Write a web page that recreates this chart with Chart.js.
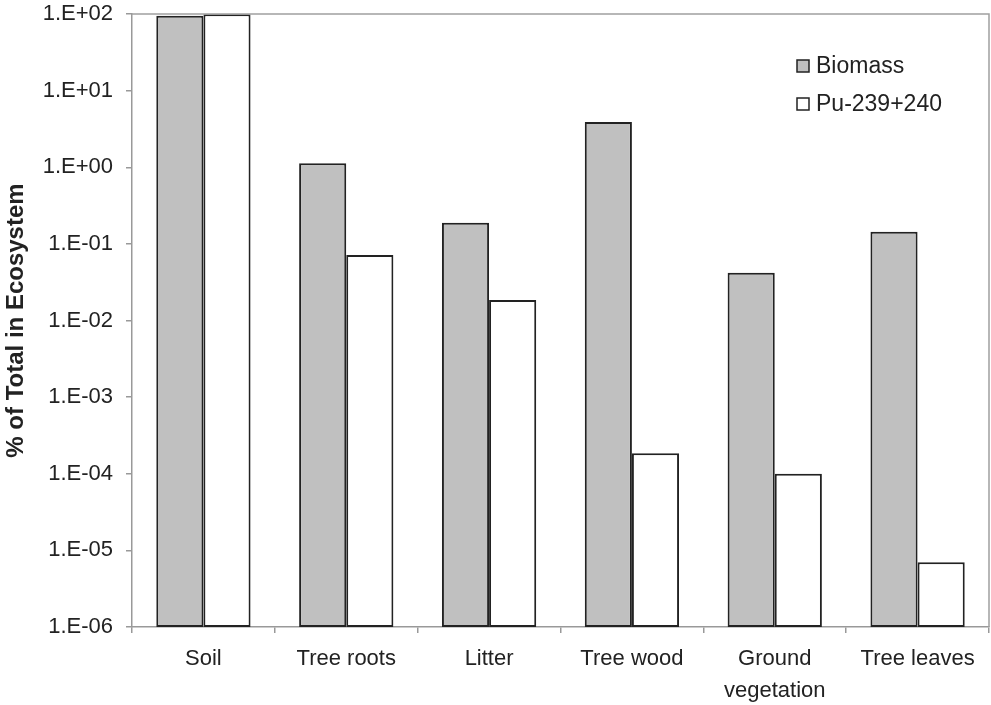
<!DOCTYPE html>
<html>
<head>
<meta charset="utf-8">
<script src="https://cdn.jsdelivr.net/npm/chart.js@4.4.0/dist/chart.umd.min.js"></script>
<style>
    html, body { margin: 0; padding: 0; background: #fff; }
    #wrap { width: 991px; height: 705px; }
</style>
</head>
<body>
<div id="wrap"><canvas id="ecoChart"></canvas></div>
<script>
var categories = ['Soil', 'Tree roots', 'Litter', 'Tree wood', ['Ground', 'vegetation'], 'Tree leaves'];
var biomassValues = [95, 1.13, 0.189, 3.9, 0.042, 0.144];
var plutoniumValues = [99, 0.0714, 0.0185, 1.85e-4, 1.0e-4, 7.0e-6];
var seriesNames = ['Biomass', 'Pu-239+240'];
var yMin = 1e-6;
var yMax = 100;

var FONT = "'Liberation Sans', Arial, sans-serif";

function formatExp(value) {
    var e = Math.round(Math.log10(value));
    var sign = e < 0 ? '-' : '+';
    var abs = Math.abs(e);
    return '1.E' + sign + (abs < 10 ? '0' + abs : abs);
}

// frame on top and right of plot area
var frameLines = {
    id: 'frameLines',
    afterDraw: function(chart) {
        var a = chart.chartArea;
        var ctx = chart.ctx;
        ctx.save();
        ctx.strokeStyle = '#a0a0a0';
        ctx.lineWidth = 1.5;
        ctx.beginPath();
        ctx.moveTo(a.left, a.top);
        ctx.lineTo(a.right, a.top);
        ctx.lineTo(a.right, a.bottom);
        ctx.stroke();
        ctx.restore();
    }
};

// legend inside the plot, top right
var insideLegend = {
    id: 'insideLegend',
    afterDraw: function(chart) {
        var ctx = chart.ctx;
        var sets = chart.data.datasets;
        ctx.save();
        ctx.font = '23px ' + FONT;
        ctx.textBaseline = 'middle';
        for (var i = 0; i < sets.length; i++) {
            var y = 66 + i * 38;
            ctx.fillStyle = sets[i].backgroundColor;
            ctx.fillRect(797, y - 6, 12, 12);
            ctx.strokeStyle = '#222';
            ctx.lineWidth = 1.5;
            ctx.strokeRect(797, y - 6, 12, 12);
            ctx.fillStyle = '#222';
            ctx.fillText(sets[i].label, 816, y + 1);
        }
        ctx.restore();
    }
};

var ctx = document.getElementById('ecoChart').getContext('2d');
var ecoChart = new Chart(ctx, {
    type: 'bar',
    data: {
        labels: categories,
        datasets: [{
            label: seriesNames[0],
            data: biomassValues,
            backgroundColor: '#c0c0c0',
            borderColor: '#222',
            borderWidth: 2,
            borderSkipped: false
        }, {
            label: seriesNames[1],
            data: plutoniumValues,
            backgroundColor: '#ffffff',
            borderColor: '#222',
            borderWidth: 2,
            borderSkipped: false
        }]
    },
    options: {
        responsive: true,
        maintainAspectRatio: false,
        animation: false,
        categoryPercentage: 0.66,
        barPercentage: 1.0,
        layout: {
            padding: { top: 14, right: 2, left: 0, bottom: 0 }
        },
        scales: {
            x: {
                grid: {
                    offset: true,
                    drawOnChartArea: false,
                    tickLength: 6,
                    color: '#999',
                    lineWidth: 1.5
                },
                border: { color: '#999', width: 1.5 },
                ticks: {
                    color: '#222',
                    padding: 10,
                    maxRotation: 0,
                    autoSkip: false,
                    font: { family: FONT, size: 22, lineHeight: 1.45 }
                },
                afterFit: function(scale) {
                    scale.height = 78;
                }
            },
            y: {
                type: 'logarithmic',
                min: yMin,
                max: yMax,
                grid: {
                    drawOnChartArea: false,
                    tickLength: 6,
                    color: '#999',
                    lineWidth: 1.5
                },
                border: { color: '#999', width: 1.5 },
                ticks: {
                    color: '#222',
                    padding: 13,
                    font: { family: FONT, size: 22 },
                    callback: function(value) {
                        return formatExp(value);
                    }
                },
                afterBuildTicks: function(scale) {
                    scale.ticks = scale.ticks.filter(function(t) {
                        var e = Math.log10(t.value);
                        return Math.abs(e - Math.round(e)) < 1e-9;
                    });
                },
                title: {
                    display: true,
                    text: '% of Total in Ecosystem',
                    color: '#222',
                    padding: { top: 2, bottom: 4 },
                    font: { family: FONT, size: 24, weight: 'bold' }
                },
                afterFit: function(scale) {
                    scale.width = 132;
                    // keep the top label from pushing the plot down
                    scale.paddingTop = 0;
                    scale.paddingBottom = 0;
                }
            }
        },
        plugins: {
            legend: { display: false },
            tooltip: { enabled: false }
        }
    },
    plugins: [frameLines, insideLegend]
});
</script>
</body>
</html>
